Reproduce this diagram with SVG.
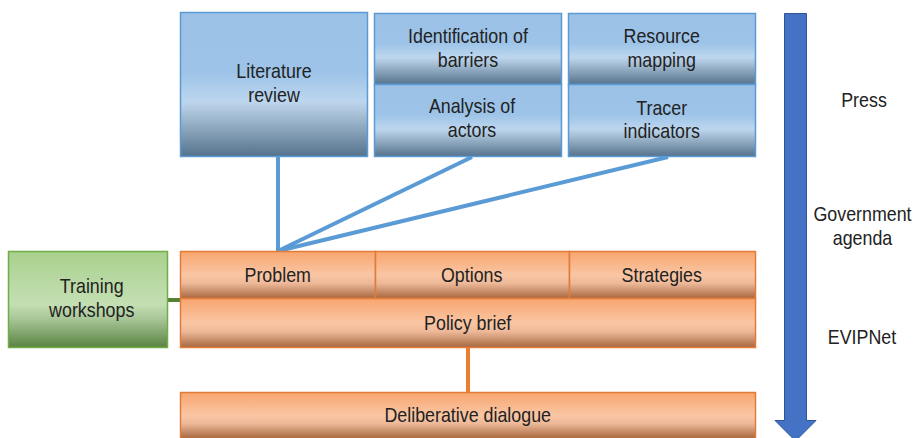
<svg xmlns="http://www.w3.org/2000/svg" width="914" height="438" viewBox="0 0 914 438">
<defs>
<linearGradient id="gBlue" x1="0" y1="0" x2="0" y2="1">
<stop offset="0" stop-color="#9BC2E6"/>
<stop offset="0.42" stop-color="#9DC4E8"/>
<stop offset="0.62" stop-color="#BDD6EE"/>
<stop offset="0.72" stop-color="#A4BDD3"/>
<stop offset="1" stop-color="#55728C"/>
</linearGradient>
<linearGradient id="gOrange" x1="0" y1="0" x2="0" y2="1">
<stop offset="0" stop-color="#F8A56E"/>
<stop offset="0.5" stop-color="#F9C6A4"/>
<stop offset="0.68" stop-color="#EDB898"/>
<stop offset="1" stop-color="#A5673F"/>
</linearGradient>
<linearGradient id="gGreen" x1="0" y1="0" x2="0" y2="1">
<stop offset="0" stop-color="#A9D18E"/>
<stop offset="0.55" stop-color="#C4DFB3"/>
<stop offset="0.7" stop-color="#A8C697"/>
<stop offset="1" stop-color="#5A8443"/>
</linearGradient>
</defs>
<style>
.b{fill:url(#gBlue);stroke:#5B9BD5;stroke-width:1.5}
.o{fill:url(#gOrange);stroke:#E07B39;stroke-width:1.5}
.g{fill:url(#gGreen);stroke:#70AD47;stroke-width:1.5}
text{font-family:"Liberation Sans",Arial,sans-serif;font-size:21px;fill:#222;text-anchor:middle}
.cb{stroke:#5B9BD5;stroke-width:4;fill:none}
.co{stroke:#ED7D31;stroke-width:4;fill:none}
.cg{stroke:#548235;stroke-width:4;fill:none}
</style>
<g id="connectors">
<line class="cb" x1="278" y1="157" x2="278" y2="251"/>
<line class="cb" x1="472" y1="157" x2="278" y2="251"/>
<line class="cb" x1="668" y1="157" x2="278" y2="251"/>
<line class="cg" x1="168" y1="300" x2="180" y2="300"/>
<line class="co" x1="468" y1="348" x2="468" y2="392"/>
</g>
<g id="literature-review">
<rect class="b" x="180.5" y="12.5" width="187" height="144"/>
<text transform="translate(274 78) scale(.85 1)">Literature</text>
<text transform="translate(274 101.5) scale(.85 1)">review</text>
</g>
<g id="identification-barriers">
<rect class="b" x="374.5" y="13.5" width="187" height="71"/>
<text transform="translate(468 43.3) scale(.85 1)">Identification of</text>
<text transform="translate(468 66.7) scale(.85 1)">barriers</text>
</g>
<g id="analysis-actors">
<rect class="b" x="374.5" y="84.5" width="187" height="72"/>
<text transform="translate(472 113.3) scale(.85 1)">Analysis of</text>
<text transform="translate(472 137.3) scale(.85 1)">actors</text>
</g>
<g id="resource-mapping">
<rect class="b" x="568.5" y="13.5" width="187" height="71"/>
<text transform="translate(661.7 43.3) scale(.85 1)">Resource</text>
<text transform="translate(661.7 66.7) scale(.85 1)">mapping</text>
</g>
<g id="tracer-indicators">
<rect class="b" x="568.5" y="84.5" width="187" height="72"/>
<text transform="translate(661.7 114.5) scale(.85 1)">Tracer</text>
<text transform="translate(661.7 137.7) scale(.85 1)">indicators</text>
</g>
<g id="training-workshops">
<rect class="g" x="8.5" y="251.5" width="159" height="96"/>
<text transform="translate(91.7 293.3) scale(.85 1)">Training</text>
<text transform="translate(91.7 317.3) scale(.85 1)">workshops</text>
</g>
<g id="problem">
<rect class="o" x="180.5" y="251.5" width="195" height="47"/>
<text transform="translate(277.7 281.7) scale(.85 1)">Problem</text>
</g>
<g id="options">
<rect class="o" x="375.5" y="251.5" width="194" height="47"/>
<text transform="translate(471.7 281.7) scale(.85 1)">Options</text>
</g>
<g id="strategies">
<rect class="o" x="569.5" y="251.5" width="186" height="47"/>
<text transform="translate(661.7 281.7) scale(.85 1)">Strategies</text>
</g>
<g id="policy-brief">
<rect class="o" x="180.5" y="298.5" width="575" height="49"/>
<text transform="translate(467.7 330) scale(.85 1)">Policy brief</text>
</g>
<g id="deliberative-dialogue">
<rect class="o" x="180.5" y="392.5" width="575" height="46"/>
<text transform="translate(467.7 421.7) scale(.85 1)">Deliberative dialogue</text>
</g>
<g id="arrow">
<path d="M784.5 13.5 H806.5 V420.5 H816 L795.5 441 L775 420.5 H784.5 Z" fill="#4472C4" stroke="#2F5597" stroke-width="1"/>
</g>
<g id="labels">
<text transform="translate(864 106.5) scale(.85 1)">Press</text>
<text transform="translate(862.5 220.7) scale(.85 1)">Government</text>
<text transform="translate(862.5 245) scale(.85 1)">agenda</text>
<text transform="translate(862 343.5) scale(.85 1)">EVIPNet</text>
</g>
</svg>
